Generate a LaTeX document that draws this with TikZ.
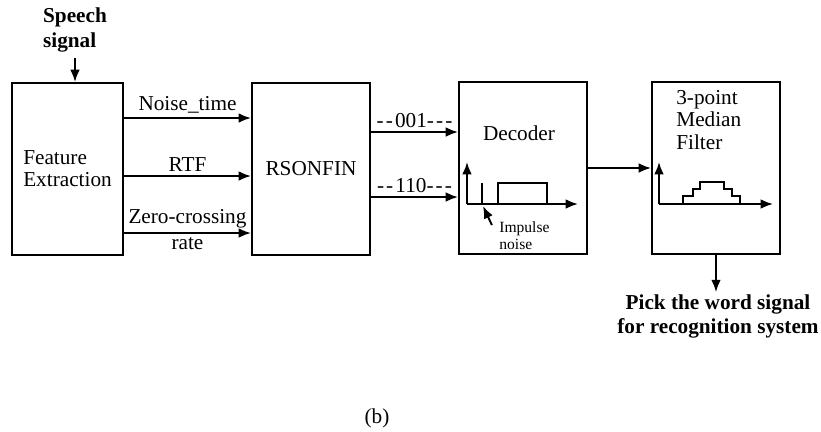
\documentclass[tikz,border=0pt]{standalone}
\usepackage{fontspec}
\setmainfont{Liberation Serif}
\usetikzlibrary{arrows.meta,positioning,calc}
\newcommand{\dsh}{-\kern1.2pt}
\tikzset{
	block/.style={
		rectangle,
		draw,
		line width=1.1pt,
		inner sep=0pt,
		align=center,
		minimum height=97.2pt,
	},
	txt/.style={
		font=\fontsize{12}{12.5}\selectfont,
	},
	boldtxt/.style={
		font=\fontsize{12}{13.6}\selectfont\bfseries,
	},
	smalltxt/.style={
		font=\fontsize{8.8}{9.6}\selectfont,
		inner sep=0pt,
		align=left,
	},
	arc/.style={
		-{Latex[length=7pt,width=5.5pt]},
		line width=1.1pt,
	},
	curve/.style={
		line width=1.1pt,
	},
}

\begin{document}
\begin{tikzpicture}[x=0.565pt,y=-0.565pt,txt]
	\useasboundingbox (0,0) rectangle (821,431);

	\node [
	  block,
	  minimum width=62.7pt,
	  align=left
	] (fe) at (67.5,169) {Feature\\Extraction};
	\node [boldtxt, align=left] (speech) at (75,30) {Speech\\signal};
	\node [
	  block,
	  minimum width=66.7pt
	] (rs) at (311,169) {RSONFIN};
	\node [
	  block,
	  minimum width=72.3pt
	] (dec) at (523,168) {};
	\node (dectxt) at (519,133) {Decoder};
	\node [
	  block,
	  minimum width=72.3pt
	] (mf) at (716,168) {};
	\node [align=left, anchor=west, inner sep=0pt] (mftxt) at (676,120) {3-point\\Median\\Filter};
	\node [boldtxt, inner sep=1pt, align=center] (pick) at (718,316) {Pick the word signal\\for recognition system};
	\node (cap) at (377,418) {(b)};

	% inputs
	\draw[arc] (speech.south) -- (speech.south |- fe.north);
	\draw[arc] ($(fe.east)+(0,-51)$) coordinate (n1) -- node[above, inner sep=2pt] {Noise\_time} (n1 -| rs.west);
	\draw[arc] ($(fe.east)+(0,7)$) coordinate (n2) -- node[above, inner sep=2pt] {RTF} (n2 -| rs.west);
	\draw[arc] ($(fe.east)+(0,64)$) coordinate (n3) -- node[above, inner sep=2pt] {Zero-crossing} node[below, inner sep=2pt] {rate} (n3 -| rs.west);

	% codes
	\draw[arc] ($(rs.east)+(0,-37)$) coordinate (c1) -- node[above, inner sep=2pt] {\dsh\dsh001\dsh\dsh-} (c1 -| dec.west);
	\draw[arc] ($(rs.east)+(0,28)$) coordinate (c2) -- node[above, inner sep=2pt] {\dsh\dsh110\dsh\dsh-} (c2 -| dec.west);
	\draw[arc] (dec.east) -- (mf.west);
	\draw[arc] (mf.south) -- (mf.south |- pick.north);

	% decoder plot
	\coordinate (d0) at (467,204);
	\draw[arc] (d0) -- (467,162);
	\draw[arc] (d0) -- (578,204);
	\draw[curve] (482,204) -- (482,183);
	\draw[curve] (498,204) |- (547,183) -- (547,204);
	\node [smalltxt, anchor=north west] (imp) at (499,221) {Impulse\\noise};
	\coordinate (imptip) at (483,206);
	\draw[arc] ([xshift=-4pt,yshift=-2.3pt]imp.north west) -- (imptip);

	% filter plot
	\coordinate (m0) at (659,204);
	\draw[arc] (m0) -- (659,162);
	\draw[arc] (m0) -- (773,204);
	\draw[curve] (683,204) |- (693,196) |- (700,189) |- (724,182) |- (732,189) |- (740,196) -- (740,204);
\end{tikzpicture}
\end{document}
